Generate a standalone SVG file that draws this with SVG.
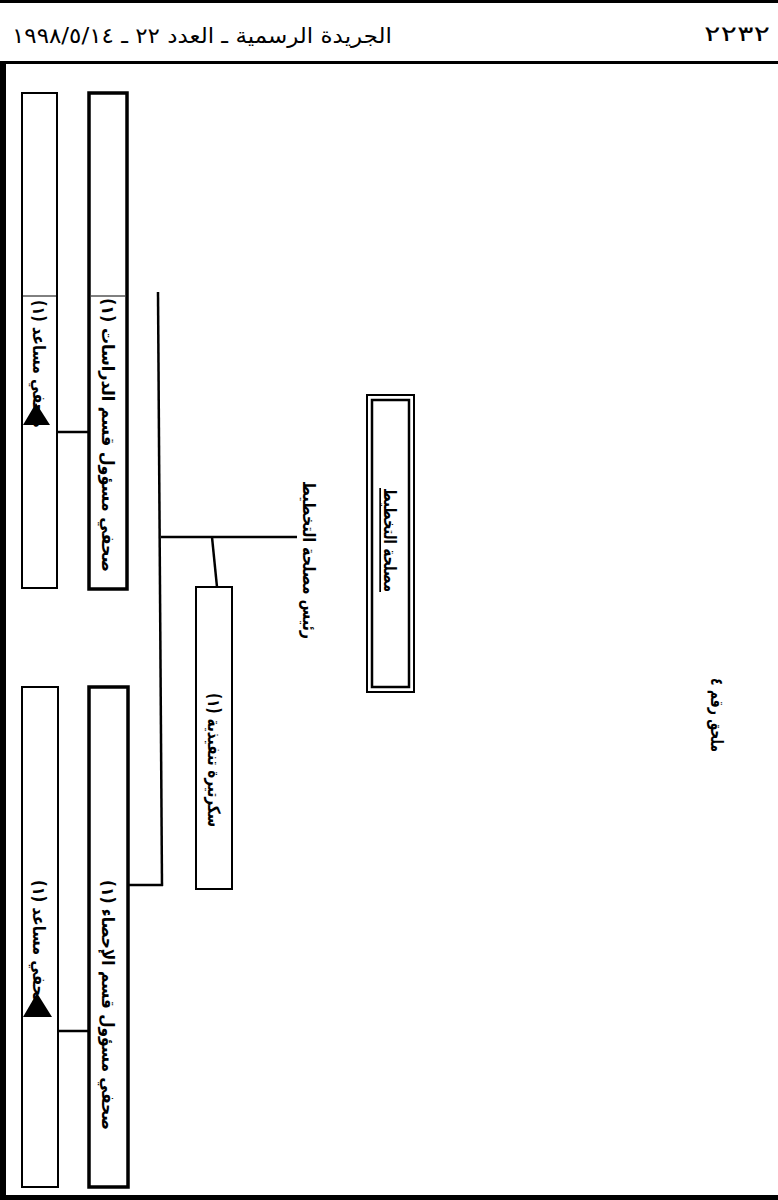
<svg xmlns="http://www.w3.org/2000/svg" width="778" height="1200" viewBox="0 0 778 1200">
<style>
text{font-family:"DejaVu Sans","Noto Sans",sans-serif;fill:#000;}
.hdr{font-size:21px;}
.rt{font-size:17px;font-weight:bold;dominant-baseline:central;text-anchor:middle;}
.box{fill:#fff;stroke:#000;}
.thick{stroke-width:3.5;}
.thin{stroke-width:2;}
.ln{stroke:#000;stroke-width:2.5;fill:none;}
</style>
<rect x="0" y="0" width="778" height="1200" fill="#fff"/>
<!-- page frame -->
<rect x="0" y="0" width="778" height="3" fill="#000"/>
<rect x="0" y="61" width="778" height="3" fill="#000"/>
<rect x="0" y="61" width="6" height="1139" fill="#000"/>
<rect x="0" y="1195" width="778" height="5" fill="#000"/>
<text class="hdr" x="770" y="41" text-anchor="end" font-size="27" textLength="66" lengthAdjust="spacingAndGlyphs">٢٢٣٢</text>
<text class="hdr" x="392" y="43" direction="rtl" text-anchor="start" textLength="380" lengthAdjust="spacingAndGlyphs">الجريدة الرسمية ـ العدد ٢٢ ـ ١٩٩٨/٥/١٤</text>

<g id="connectors">
<line class="ln" x1="158" y1="292" x2="162" y2="886"/>
<line class="ln" x1="128" y1="885" x2="163" y2="885"/>
<line class="ln" x1="161" y1="537" x2="297" y2="537"/>
<line class="ln" x1="212" y1="537" x2="217" y2="587"/>
<line class="ln" x1="34" y1="432" x2="107" y2="432"/>
<line class="ln" x1="58" y1="1031" x2="110" y2="1031"/>
</g>

<g id="annex">
<text class="rt" transform="translate(717,715) rotate(90)" textLength="74" lengthAdjust="spacingAndGlyphs">ملحق رقم ٤</text>
</g>

<g id="planning-dept">
<rect class="box" x="367" y="395" width="47" height="297" stroke-width="2"/>
<rect class="box" x="372" y="400" width="37" height="287" stroke-width="2.5"/>
<text class="rt" transform="translate(390,540) rotate(90)" textLength="104" lengthAdjust="spacingAndGlyphs" text-decoration="underline">مصلحة التخطيط</text>
</g>

<g id="head">
<text class="rt" transform="translate(309,560) rotate(90)" textLength="158" lengthAdjust="spacingAndGlyphs">رئيس مصلحة التخطيط</text>
</g>

<g id="secretary">
<rect class="box thin" x="196" y="587" width="36" height="302"/>
<text class="rt" transform="translate(214,760) rotate(90)" textLength="134" lengthAdjust="spacingAndGlyphs">سكرتيرة تنفيذية (١)</text>
</g>

<g id="studies-head">
<rect class="box thick" x="89" y="93" width="38" height="496"/>
<line x1="91" y1="296" x2="125" y2="296" stroke="#000" stroke-width="1"/>
<text class="rt" transform="translate(108,435) rotate(90)" textLength="274" lengthAdjust="spacingAndGlyphs">صحفي مسؤول قسم الدراسات (١)</text>
</g>

<g id="studies-assistant">
<rect class="box thin" x="22" y="93" width="35" height="495"/>
<line x1="23" y1="296" x2="56" y2="296" stroke="#000" stroke-width="1"/>
<text class="rt" transform="translate(39,364) rotate(90)" textLength="128" lengthAdjust="spacingAndGlyphs">صحفي مساعد (١)</text>
<polygon points="36,403 23,425 50,425" fill="#000"/>
</g>

<g id="stats-head">
<rect class="box thick" x="89" y="687" width="39" height="500"/>
<text class="rt" transform="translate(108,1005) rotate(90)" textLength="250" lengthAdjust="spacingAndGlyphs">صحفي مسؤول قسم الإحصاء (١)</text>
</g>

<g id="stats-assistant">
<rect class="box thin" x="22" y="687" width="36" height="500"/>
<text class="rt" transform="translate(39,945) rotate(90)" textLength="130" lengthAdjust="spacingAndGlyphs">صحفي مساعد (١)</text>
<polygon points="37,993 23,1017 52,1017" fill="#000"/>
</g>
</svg>
